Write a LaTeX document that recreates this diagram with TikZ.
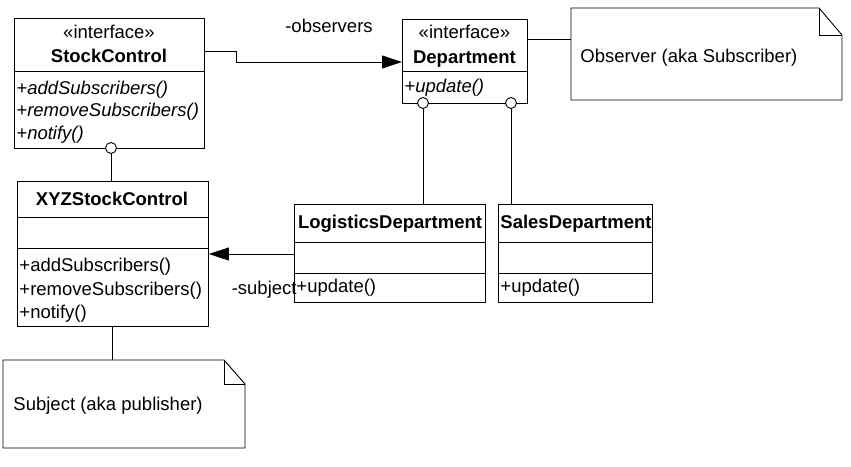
\documentclass[tikz,border=0pt]{standalone}
\usepackage{fontspec}
\setmainfont{Liberation Sans}
\usetikzlibrary{arrows.meta}
\begin{document}
\begin{tikzpicture}[x=1pt,y=-1pt,
  every path/.style={line width=0.9pt},
  umlbox/.style={draw,rectangle,inner sep=0pt,anchor=north west,fill=white},
  txt/.style={inner sep=0pt,font=\fontsize{18.5}{22}\selectfont},
  lolli/.style={draw,circle,fill=white,minimum size=11pt,inner sep=0pt},
  tri/.style={-{Triangle[length=20pt,width=13pt]}},
  hole/.style={inner sep=0pt,anchor=north west}]
\useasboundingbox (0,0) rectangle (851,466);
% boxes
\node[umlbox,minimum width=190pt,minimum height=130pt] (sc) at (14,18) {};
\draw (sc.west |- 0,71) -- (sc.east |- 0,71);
\node[umlbox,minimum width=125pt,minimum height=84pt] (dep) at (402,19) {};
\draw (dep.west |- 0,71) -- (dep.east |- 0,71);
\node[umlbox,minimum width=191pt,minimum height=145pt] (xyz) at (17,181) {};
\draw (xyz.west |- 0,217) -- (xyz.east |- 0,217);
\draw (xyz.west |- 0,248) -- (xyz.east |- 0,248);
\node[umlbox,minimum width=191pt,minimum height=98pt] (lg) at (294,204) {};
\draw (lg.west |- 0,242) -- (lg.east |- 0,242);
\draw (lg.west |- 0,273) -- (lg.east |- 0,273);
\node[umlbox,minimum width=154pt,minimum height=98pt] (sd) at (498,204) {};
\draw (sd.west |- 0,242) -- (sd.east |- 0,242);
\draw (sd.west |- 0,273) -- (sd.east |- 0,273);
% notes
\node[hole,minimum width=271pt,minimum height=92pt] (obs) at (571,8) {};
\draw (571,8) -- (819,8) -- (842,35) -- (842,100) -- (571,100) -- cycle;
\draw (819,8) -- (819,35) -- (842,35);
\node[hole,minimum width=242pt,minimum height=88pt] (subj) at (3,360) {};
\draw (3,360) -- (224,360) -- (245,384) -- (245,448) -- (3,448) -- cycle;
\draw (224,360) -- (224,384) -- (245,384);
% connectors
\coordinate (bend1) at (236,51);
\coordinate (bend2) at (236,62);
\draw[tri] (sc.east |- bend1) -- (bend1) -- (bend2) -- (dep.west |- bend2);
\draw (dep.east |- 0,39) -- (obs.west |- 0,39);
\draw[tri] (lg.west |- 0,254) -- (xyz.east |- 0,254);
\node[lolli] (l1) at (111,148) {};
\node[lolli] (l2) at (423,103) {};
\node[lolli] (l3) at (511,103) {};
\draw (l1.south) -- (xyz.north -| l1);
\draw (l2.south) -- (lg.north -| l2);
\draw (l3.south) -- (sd.north -| l3);
\draw (xyz.south -| 112,0) -- (subj.north -| 112,0);
% texts
\node[txt,anchor=base] (t1) at (109,38) {«interface»};
\node[txt,anchor=base] (t2) at (109,62) {\bfseries StockControl};
\node[txt,anchor=base west] (t3) at (16,94) {\itshape +addSubscribers()};
\node[txt,anchor=base west] (t4) at (16,116.5) {\itshape +removeSubscribers()};
\node[txt,anchor=base west] (t5) at (16,139) {\itshape +notify()};
\node[txt,anchor=base] (t6) at (464.5,38) {«interface»};
\node[txt,anchor=base] (t7) at (464.5,63) {\bfseries Department};
\node[txt,anchor=base west] (t8) at (404,92) {\itshape +update()};
\node[txt,anchor=base] (t9) at (112,205) {\bfseries XYZStockControl};
\node[txt,anchor=base west] (t10) at (19,271) {+addSubscribers()};
\node[txt,anchor=base west] (t11) at (19,295) {+removeSubscribers()};
\node[txt,anchor=base west] (t12) at (19,318) {+notify()};
\node[txt,anchor=base] (t13) at (390,228) {\bfseries LogisticsDepartment};
\node[txt,anchor=base west] (t14) at (296,292) {+update()};
\node[txt,anchor=base] (t15) at (576,228) {\bfseries SalesDepartment};
\node[txt,anchor=base west] (t16) at (500,292) {+update()};
\node[txt,anchor=base] (t17) at (329,32) {-observers};
\node[txt,anchor=base east] (t18) at (297,294) {-subject};
\node[txt,anchor=base west] (t19) at (580,62) {Observer (aka Subscriber)};
\node[txt,anchor=base west] (t20) at (13,410) {Subject (aka publisher)};
\end{tikzpicture}
\end{document}
